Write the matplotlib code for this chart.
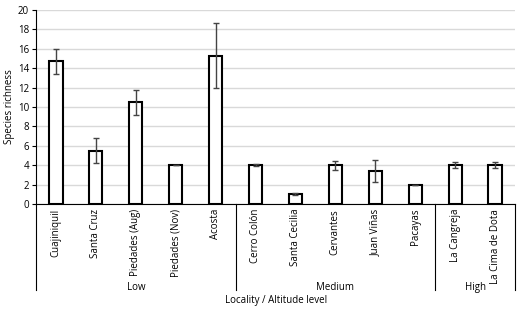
import matplotlib
matplotlib.use("Agg")
import matplotlib.pyplot as plt
import matplotlib.transforms as mtransforms

categories = ["Cuajiniquil", "Santa Cruz", "Piedades (Aug)", "Piedades (Nov)", "Acosta",
              "Cerro Colón", "Santa Cecilia", "Cervantes", "Juan Viñas", "Pacayas",
              "La Cangreja", "La Cima de Dota"]
values = [14.7, 5.5, 10.5, 4.0, 15.3, 4.0, 1.0, 4.0, 3.4, 2.0, 4.0, 4.0]
errors = [1.3, 1.3, 1.3, 0.0, 3.35, 0.1, 0.1, 0.45, 1.15, 0.0, 0.3, 0.3]
groups = ["Low", "Medium", "High"]
group_sizes = [5, 5, 2]
yticks = [0, 2, 4, 6, 8, 10, 12, 14, 16, 18, 20]

plt.rcParams['font.family'] = ['Open Sans', 'DejaVu Sans']
W, H = 528, 309
fig = plt.figure(figsize=(W/100, H/100), dpi=100)
ax = fig.add_axes([36/W, (H-204)/H, 479/W, 194/H])

x = list(range(len(categories)))
ax.bar(x, values, width=0.33, color="white", edgecolor="black", linewidth=1.5, zorder=3)
ax.errorbar(x, values, yerr=errors, fmt="none", ecolor="#444444", elinewidth=1.0,
            capsize=2.5, capthick=1.0, zorder=4)

ax.set_xlim(-0.5, len(categories) - 0.5)
ax.set_ylim(0, 20)
ax.set_yticks(yticks)
ax.set_yticklabels([str(v) for v in yticks], fontsize=7)
ax.yaxis.grid(True, color="#d9d9d9", linewidth=1.0, zorder=0)
ax.set_axisbelow(True)
for s in ["top", "right"]:
    ax.spines[s].set_visible(False)
ax.spines["left"].set_color("black")
ax.spines["left"].set_linewidth(0.8)
ax.spines["bottom"].set_color("black")
ax.spines["bottom"].set_linewidth(0.8)
ax.tick_params(axis="y", length=3, width=0.8, pad=2)
ax.set_xticks([])

trans = mtransforms.blended_transform_factory(ax.transData, ax.transAxes)
# category labels
for xi, lab in zip(x, categories):
    ax.text(xi, -0.025, lab, rotation=90, ha="center", va="top", fontsize=7,
            transform=trans)

# group separators and labels
bounds = [-0.5]
for n in group_sizes:
    bounds.append(bounds[-1] + n)
for b in bounds:
    ax.plot([b, b], [0, -0.445], color="black", linewidth=0.8, transform=trans, clip_on=False)
for i, g in enumerate(groups):
    ax.text((bounds[i] + bounds[i+1]) / 2, -0.43, g, ha="center", va="center",
            fontsize=7, transform=trans)

fig.text(276/W, 1 - 301/H, "Locality / Altitude level", ha="center", va="center", fontsize=7)
fig.text(10/W, 1 - 107/H, "Species richness", ha="center", va="center", rotation=90, fontsize=7)

fig.savefig("out.png", dpi=100)
